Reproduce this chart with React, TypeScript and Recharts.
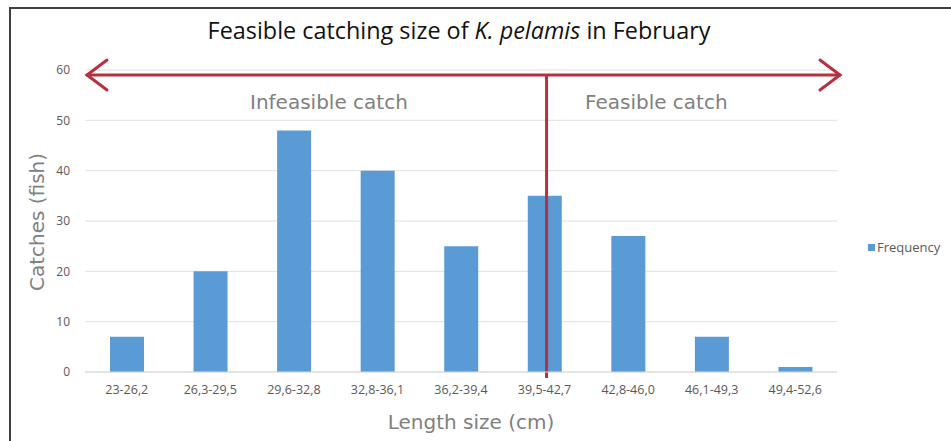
import React from 'react';
import { BarChart, Bar, XAxis, YAxis, CartesianGrid, ReferenceLine, Legend } from 'recharts';

const lengthClasses = ['23-26,2', '26,3-29,5', '29,6-32,8', '32,8-36,1', '36,2-39,4', '39,5-42,7', '42,8-46,0', '46,1-49,3', '49,4-52,6'];
const frequency = [7, 20, 48, 40, 25, 35, 27, 7, 1];
const yTicks = [0, 10, 20, 30, 40, 50, 60];
const cutClass = '39,5-42,7';
const arrowLevel = 59;

const data = lengthClasses.map((c, i) => ({ range: c, Frequency: frequency[i] }));

const RED = '#b8303f';
const FONT = '"DejaVu Sans", Verdana, sans-serif';
const TICK_FONT = '"Open Sans", sans-serif';

const ArrowShape = (props: any) => {
    const { x1, x2, y1 } = props;
    const l = x1 + 2;
    const r = x2 + 3;
    const h = 15;
    const w = 20;
    return (
        <g stroke={RED} strokeWidth={3} fill="none" strokeLinecap="round">
            <line x1={l} y1={y1} x2={r} y2={y1} />
            <polyline points={`${l + w},${y1 - h} ${l},${y1} ${l + w},${y1 + h}`} />
            <polyline points={`${r - w},${y1 - h} ${r},${y1} ${r - w},${y1 + h}`} />
        </g>
    );
};

const CutShape = (props: any) => {
    const { x1, y1, y2 } = props;
    return <line x1={x1 + 2} x2={x1 + 2} y1={Math.min(y1, y2) + 6} y2={Math.max(y1, y2) + 6} stroke={RED} strokeWidth={3} />;
};

const LegendContent = () => (
    <div style={{ display: 'flex', alignItems: 'center', fontFamily: TICK_FONT, fontSize: 13, color: '#595959' }}>
        <span style={{ display: 'inline-block', width: 7, height: 7, background: '#5b9bd5', marginRight: 2 }} />
        Frequency
    </div>
);

export default function App() {
    return (
        <div style={{ position: 'absolute', left: 0, top: 0, width: 951, height: 441, background: '#fff', overflow: 'hidden' }}>
            <div style={{ position: 'absolute', left: 9, top: 7, right: -5, bottom: -5, borderTop: '2px solid #404040', borderLeft: '2px solid #404040' }} />
            <div style={{ position: 'absolute', left: 0, width: 918, top: 14, textAlign: 'center', fontFamily: '"Open Sans", sans-serif', fontSize: 23.4, color: '#111' }}>
                Feasible catching size of <i>K. pelamis</i> in February
            </div>
            <div style={{ position: 'absolute', left: 250, top: 90, fontFamily: FONT, fontSize: 20, color: '#808080' }}>Infeasible catch</div>
            <div style={{ position: 'absolute', left: 585, top: 90, fontFamily: FONT, fontSize: 20, color: '#808080' }}>Feasible catch</div>
            <div style={{ position: 'absolute', left: 0, width: 942, top: 410, textAlign: 'center', fontFamily: FONT, fontSize: 20, color: '#808080' }}>Length size (cm)</div>
            <div style={{ position: 'absolute', left: 37, top: 222, transform: 'translate(-50%, -50%) rotate(-90deg)', whiteSpace: 'nowrap', fontFamily: FONT, fontSize: 20, color: '#808080' }}>Catches (fish)</div>
            <div style={{ position: 'absolute', left: 0, top: 0 }}>
                <BarChart width={951} height={441} data={data} margin={{ top: 70, right: 34, left: 0, bottom: 0 }}>
                    <CartesianGrid vertical={false} stroke="#e0e0e0" />
                    <XAxis
                        dataKey="range"
                        height={69}
                        axisLine={{ stroke: '#d9d9d9' }}
                        tickLine={false}
                        tickMargin={7}
                        interval={0}
                        tick={{ fill: '#595959', fontSize: 12.5, fontFamily: TICK_FONT }}
                    />
                    <YAxis
                        width={85}
                        domain={[0, 60]}
                        ticks={yTicks}
                        axisLine={false}
                        tickLine={false}
                        tickMargin={9}
                        tick={{ fill: '#595959', fontSize: 12, fontFamily: TICK_FONT }}
                    />
                    <Bar dataKey="Frequency" fill="#5b9bd5" barSize={34} isAnimationActive={false} />
                    <ReferenceLine y={arrowLevel} shape={ArrowShape} ifOverflow="visible" />
                    <ReferenceLine x={cutClass} shape={CutShape} ifOverflow="visible" />
                    <Legend
                        layout="vertical"
                        align="right"
                        verticalAlign="top"
                        content={LegendContent}
                        wrapperStyle={{ left: 868, top: 238, width: 80 }}
                    />
                </BarChart>
            </div>
        </div>
    );
}
